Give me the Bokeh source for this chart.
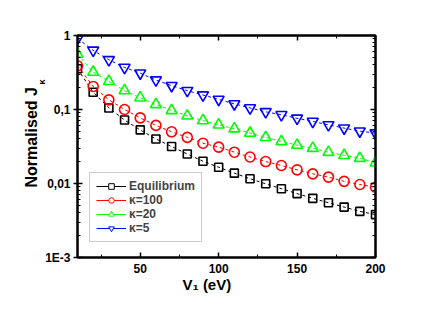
from bokeh.plotting import figure
from bokeh.models import (FixedTicker, LinearAxis, LogAxis, Title, Legend, LegendItem)
from bokeh.embed import file_html
from bokeh.resources import INLINE

v1 = [10, 20, 30, 40, 50, 60, 70, 80, 90, 100, 110, 120, 130, 140, 150, 160, 170, 180, 190, 200]
j_eq = [0.355, 0.171, 0.105, 0.072, 0.053, 0.040, 0.0316, 0.025, 0.020, 0.0166,
        0.0138, 0.0116, 0.0099, 0.0085, 0.0073, 0.0063, 0.0055, 0.0048, 0.0042, 0.0038]
j_k100 = [0.39, 0.205, 0.135, 0.100, 0.077, 0.061, 0.050, 0.042, 0.035, 0.031,
          0.0265, 0.0228, 0.0198, 0.0175, 0.0153, 0.0135, 0.0122, 0.0107, 0.0097, 0.0089]
j_k20 = [0.56, 0.32, 0.24, 0.18, 0.144, 0.117, 0.097, 0.082, 0.071, 0.062,
         0.055, 0.048, 0.042, 0.037, 0.033, 0.030, 0.0265, 0.024, 0.022, 0.019]
j_k5 = [0.91, 0.63, 0.47, 0.37, 0.31, 0.25, 0.21, 0.18, 0.157, 0.137,
        0.119, 0.105, 0.093, 0.085, 0.076, 0.069, 0.062, 0.056, 0.051, 0.048]

series_labels = ["Equilibrium", "\u03ba=100", "\u03ba=20", "\u03ba=5"]
x_ticks = [50, 100, 150, 200]
x_minor = [25, 75, 125, 175]
y_ticks = [0.001, 0.01, 0.1, 1]
y_tick_labels = ["1E-3", "0,01", "0,1", "1"]
x_label = "V\u2081 (eV)"
y_label = "Normalised J"
y_label_sub = "\u03ba"

FONT = "Liberation Sans"

p = figure(width=420, height=305, x_range=(10, 200), y_range=(0.001, 1),
           y_axis_type="log", output_backend="svg", toolbar_location=None,
           min_border_left=77, min_border_right=45, min_border_top=35, min_border_bottom=48)
p.grid.visible = False
p.outline_line_color = "black"
p.outline_line_width = 2
p.background_fill_color = "white"
p.border_fill_color = "white"

y_minor = [m * 10.0 ** e for e in (-3, -2, -1) for m in range(2, 10)]

def style_axis(ax, show_labels=True):
    ax.axis_line_width = 2
    ax.axis_line_color = "black"
    ax.major_tick_in = 5
    ax.major_tick_out = 0
    ax.minor_tick_in = 3
    ax.minor_tick_out = 0
    ax.major_tick_line_width = 1.5
    ax.minor_tick_line_width = 1
    ax.major_label_text_font = FONT
    ax.major_label_text_font_style = "bold"
    ax.major_label_text_font_size = "12px"
    ax.major_label_text_color = "black"
    if not show_labels:
        ax.major_label_text_font_size = "0px"
        ax.major_label_text_alpha = 0

xb = p.xaxis[0]
xb.ticker = FixedTicker(ticks=x_ticks, minor_ticks=x_minor)
style_axis(xb)
xb.major_label_standoff = 6
xb.axis_label = None

yl = p.yaxis[0]
yl.ticker = FixedTicker(ticks=y_ticks, minor_ticks=y_minor)
yl.major_label_overrides = {t: s for t, s in zip(y_ticks, y_tick_labels)}
style_axis(yl)
yl.major_tick_out = 4
yl.major_label_standoff = 3
yl.axis_label = None

xt = LinearAxis(ticker=FixedTicker(ticks=x_ticks, minor_ticks=x_minor))
style_axis(xt, False)
p.add_layout(xt, "above")
yr = LogAxis(ticker=FixedTicker(ticks=y_ticks, minor_ticks=y_minor))
style_axis(yr, False)
p.add_layout(yr, "right")

colors = ["black", "#FF0000", "#00FF00", "#0000FF"]
markers = ["square", "circle", "triangle", "inverted_triangle"]
sizes = [8, 10, 11, 11]
data = [j_eq, j_k100, j_k20, j_k5]

items = []
for ys, c, m, s, lab in zip(data, colors, markers, sizes, series_labels):
    p.line(v1, ys, line_color=c, line_width=1, line_dash="3 3")
    p.scatter(v1, ys, marker=m, size=s, line_color=c, line_width=1.6,
              fill_color="white", fill_alpha=0.0)
    # solid line and thin open marker used only as the legend swatch (hidden on the plot)
    r_leg = p.line(v1, ys, line_color=c, line_width=1, visible=False)
    r_mk = p.scatter(v1, ys, marker=m, size=s, line_color=c, line_width=1,
                     fill_color="white", fill_alpha=1.0, visible=False)
    items.append(LegendItem(label=lab, renderers=[r_leg, r_mk]))

legend = Legend(items=items, location=(12, 15))
legend.label_text_font = FONT
legend.label_text_font_style = "bold"
legend.label_text_font_size = "12px"
legend.glyph_width = 30
legend.glyph_height = 14
legend.label_height = 14
legend.label_standoff = 3
legend.spacing = 0
legend.padding = 6
legend.margin = 0
legend.border_line_color = "#999999"
legend.border_line_width = 1
legend.background_fill_alpha = 1
p.add_layout(legend, "center")

tkw = dict(text_font=FONT, text_font_style="bold", text_color="black")
p.add_layout(Title(text=y_label_sub, align="left", offset=173, standoff=-9,
                   text_font_size="9px", **tkw), "left")
p.add_layout(Title(text=y_label, align="left", offset=70, standoff=0,
                   text_font_size="16px", **tkw), "left")
p.add_layout(Title(text=x_label, align="left", offset=105, standoff=-3,
                   text_font_size="15px", **tkw), "below")

open("out.html", "w").write(file_html(p, INLINE))
